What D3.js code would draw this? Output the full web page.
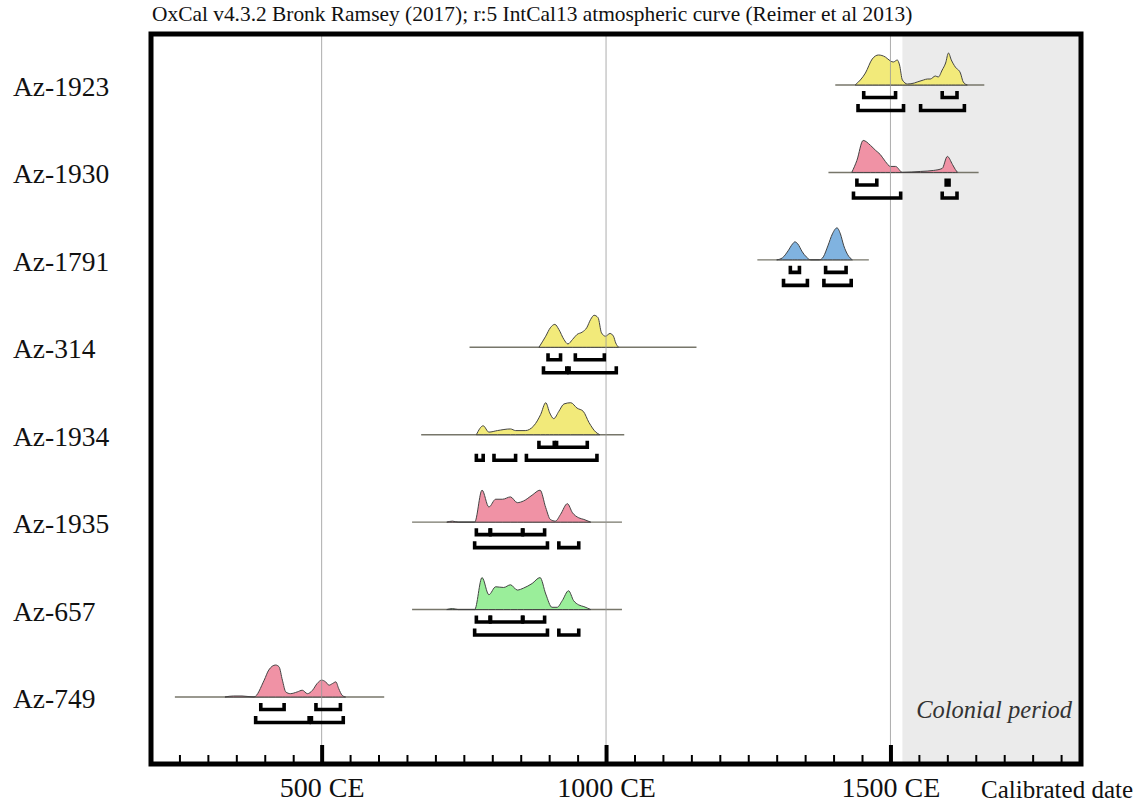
<!DOCTYPE html>
<html>
<head>
<meta charset="utf-8">
<script src="https://cdn.jsdelivr.net/npm/d3@7"></script>
<style>
  body { margin: 0; background: #fff; }
  svg text { font-family: "Liberation Serif", "Times New Roman", "DejaVu Serif", serif !important; fill: #111; }
</style>
</head>
<body>
<svg id="chart" width="1140" height="802" font-family="Liberation Serif, serif"></svg>
<script>
// samples, top to bottom
const samples = ["Az-1923", "Az-1930", "Az-1791", "Az-314", "Az-1934", "Az-1935", "Az-657", "Az-749"];
const sampleColours = ["#f2ea7a", "#f092a5", "#80b3e0", "#f2ea7a", "#f2ea7a", "#f092a5", "#9aee9a", "#f092a5"];

// extent of each plotted baseline (cal CE)
const spans = [[1403, 1665], [1391, 1655], [1266, 1462], [760, 1159], [675, 1032], [659, 1028], [659, 1028], [242, 610]];

// calibrated probability, [year CE, relative probability]
const dens1923 = [[1438,0],[1456,12],[1468,26],[1479,30],[1491,28],[1500,24],[1505,23],[1512,25],[1516,20],[1521,5],[1530,1],[1542,2],[1547,3],[1558,5],[1565,6],[1570,6],[1579,9],[1584,8],[1591,15],[1597,22],[1602,32],[1607,25],[1614,18],[1623,12],[1628,3],[1635,0]];
const dens1930 = [[1432,0],[1441,12],[1452,32],[1465,27],[1474,22],[1482,18],[1491,11],[1500,6],[1509,6],[1521,0],[1553,1],[1576,2],[1591,4],[1600,16],[1609,8],[1614,3],[1618,0]];
const dens1791 = [[1300,0],[1310,2],[1320,9],[1328,16],[1332,18],[1337,16],[1345,8],[1352,3],[1360,0],[1375,0],[1382,3],[1390,14],[1398,26],[1406,32],[1412,26],[1418,14],[1425,5],[1433,0]];
const dens314 = [[882,0],[894,11],[902,19.3],[910,22.7],[917,17.7],[926,7.7],[933,3.3],[941,7.7],[949,12.7],[958,15],[966,19.3],[973,27.7],[979,31.7],[986,29.3],[992,14.3],[999,11],[1007,13.7],[1013,11],[1017,4.3],[1022,0]];
const dens1934 = [[772,0],[784,9.3],[794,2.7],[809,4.3],[832,6],[841,4.3],[858,4.3],[873,9.3],[885,21],[894,33.3],[901,22.7],[908,16.7],[917,24.3],[926,32],[938,33.3],[949,27.7],[960,24.3],[970,12.7],[982,2.7],[989,0]];
const dens1935 = [[720,0],[730,1],[740,0],[769,0],[782,31.7],[794,15],[806,22.7],[818,22.7],[832,25],[844,19.3],[855,21],[870,26.7],[884,31.7],[894,14.3],[902,2.7],[911,1],[920,7.7],[932,18.3],[941,9.3],[952,4.3],[961,2.7],[973,0]];
const dens657 = [[720,0],[730,1],[740,0],[769,0],[782,32.3],[794,15],[806,23],[820,22.3],[832,25],[844,19.7],[855,21.7],[870,26.3],[884,32.3],[894,15.7],[905,2.3],[914,2.3],[923,9],[934,19],[943,9],[952,4.7],[961,3],[973,0]];
const dens749 = [[330,0],[345,1],[360,1],[381,0],[399,16.7],[407,26.7],[419,31.7],[425,30],[431,16.7],[437,5],[445,3.3],[457,5],[466,6.7],[475,3.3],[484,6.7],[492,13.3],[500,16.7],[507,15],[513,11.7],[519,13.3],[525,15],[530,8.3],[536,1.7],[542,0]];
const densities = [dens1923, dens1930, dens1791, dens314, dens1934, dens1935, dens657, dens749];

// highest posterior density ranges
const hpd68 = [
  [[1453,1509],[1591,1617]],
  [[1441,1476],[1598,1603]],
  [[1324,1340],[1386,1422]],
  [[898,920],[946,997]],
  [[882,909],[913,967]],
  [[772,796],[797,853],[854,892]],
  [[772,796],[797,853],[854,892]],
  [[393,434],[490,533]]
];
const hpd95 = [
  [[1443,1523],[1553,1630]],
  [[1435,1518],[1591,1617]],
  [[1312,1354],[1383,1431]],
  [[890,931],[935,1018]],
  [[772,784],[803,841],[860,984]],
  [[769,897],[917,952]],
  [[769,897],[917,952]],
  [[384,478],[482,538]]
];

const minorTicks = d3.range(250, 1801, 50);
const majorTicks = [500, 1000, 1500];
const colonialStart = 1521;

const serif = "'Liberation Serif', 'Times New Roman', serif";
const svg = d3.select("#chart");
const plotTop = 34, plotBottom = 764;

let x = d3.scaleLinear().domain([200, 1835]).range([151, 1081]);
let row = d3.scalePoint().domain(samples).range([85, 697]);

// colonial period shading
svg.append("rect")
  .attr("x", x(colonialStart))
  .attr("y", plotTop)
  .attr("width", x(1835) - x(colonialStart))
  .attr("height", plotBottom - plotTop)
  .style("fill", "#ebebeb");

svg.append("text")
  .attr("x", 1072)
  .attr("y", 718)
  .attr("text-anchor", "end")
  .style("font-family", serif)
  .style("font-size", "24.5px")
  .style("font-style", "italic")
  .style("fill", "#333")
  .text("Colonial period");

// title
svg.append("text")
  .attr("x", 152)
  .attr("y", 21)
  .style("font-family", serif)
  .style("font-size", "21.4px")
  .text("OxCal v4.3.2 Bronk Ramsey (2017); r:5 IntCal13 atmospheric curve (Reimer et al 2013)");

// one group per sample
samples.forEach(function (name, i)
{
  let base = row(name);
  let g = svg.append("g").attr("class", "sample");
  let maxP = d3.max(densities[i], function (d) { return d[1]; });
  let h = d3.scaleLinear().domain([0, maxP]).range([0, 32]);

  g.append("line")
    .attr("x1", x(spans[i][0]))
    .attr("x2", x(spans[i][1]))
    .attr("y1", base)
    .attr("y2", base)
    .style("stroke", "#77766a")
    .style("stroke-width", 1.4);

  let area = d3.area()
    .x(function (d) { return x(d[0]); })
    .y0(base)
    .y1(function (d) { return base - h(d[1]); })
    .curve(d3.curveMonotoneX);

  g.append("path")
    .attr("d", area(densities[i]))
    .style("fill", sampleColours[i])
    .style("stroke", "#444")
    .style("stroke-width", 1);

  svg.append("text")
    .attr("x", 13)
    .attr("y", base + 11)
    .style("font-family", serif)
    .style("font-size", "27.5px")
    .text(name);
});

// gridlines
svg.selectAll(".grid")
  .data(majorTicks)
  .enter()
  .append("line")
  .attr("class", "grid")
  .attr("x1", function (d) { return x(d); })
  .attr("x2", function (d) { return x(d); })
  .attr("y1", plotTop)
  .attr("y2", plotBottom)
  .style("stroke", "#999")
  .style("stroke-opacity", 0.8)
  .style("stroke-width", 1);

// range brackets
function bracket(a, b, y0, y1)
{
  return "M" + x(a) + "," + y0 + "V" + y1 + "H" + x(b) + "V" + y0;
}

samples.forEach(function (name, i)
{
  let base = row(name);
  [[hpd68[i], 6], [hpd95[i], 19]].forEach(function (set)
  {
    set[0].forEach(function (r)
    {
      svg.append("path")
        .attr("d", bracket(r[0], r[1], base + set[1], base + set[1] + 6.5))
        .style("fill", "none")
        .style("stroke", "#000")
        .style("stroke-width", 3.6)
        .style("stroke-linejoin", "miter");
    });
  });
});

// axis ticks
let minorAxis = d3.axisBottom(x).tickValues(minorTicks).tickSize(-9).tickFormat("");
let gMinor = svg.append("g").attr("transform", "translate(0," + plotBottom + ")").call(minorAxis);
gMinor.select(".domain").remove();
gMinor.selectAll(".tick line").style("stroke", "#000").style("stroke-width", 2);

let majorAxis = d3.axisBottom(x).tickValues(majorTicks).tickSize(-19).tickPadding(13)
  .tickFormat(function (d) { return d + " CE"; });
let gMajor = svg.append("g").attr("transform", "translate(0," + plotBottom + ")").call(majorAxis);
gMajor.attr("font-family", serif);
gMajor.select(".domain").remove();
gMajor.selectAll(".tick line").style("stroke", "#000").style("stroke-width", 4);
gMajor.selectAll(".tick text")
  .style("font-size", "28px")
  .style("font-family", serif)
  .style("fill", "#111");

svg.append("text")
  .attr("x", 981)
  .attr("y", 798)
  .style("font-family", serif)
  .style("font-size", "25px")
  .text("Calibrated date");

// frame
svg.append("rect")
  .attr("x", 151)
  .attr("y", plotTop)
  .attr("width", 930)
  .attr("height", plotBottom - plotTop)
  .style("fill", "none")
  .style("stroke", "#000")
  .style("stroke-width", 5);
</script>
</body>
</html>
